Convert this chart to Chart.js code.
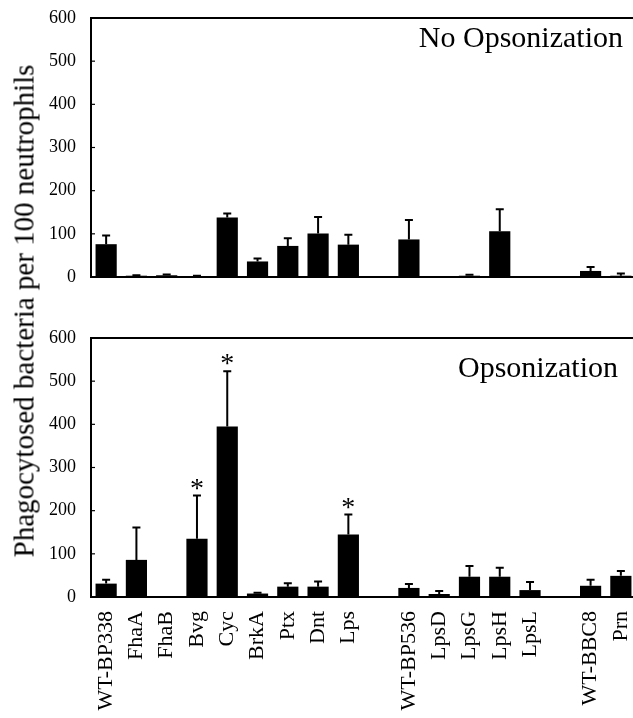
<!DOCTYPE html>
<html>
<head>
<meta charset="utf-8">
<script src="https://cdn.jsdelivr.net/npm/chart.js@4/dist/chart.umd.min.js"></script>
<style>
  html, body { margin: 0; padding: 0; background: #fff; overflow: hidden; width: 633px; height: 718px; }
  #wrap { position: relative; width: 633px; height: 718px; overflow: hidden; }
  canvas { position: absolute; left: 0; }
  #ytitle { position: absolute; left: 24px; top: 311px; transform: translate(-50%, -50%) rotate(-90deg);
    font-family: "Liberation Serif", "Times New Roman", serif; font-size: 29px; color: #000; white-space: nowrap; }
</style>
</head>
<body>
<div id="wrap">
  <canvas id="top" width="640" height="290" style="top:0px"></canvas>
  <canvas id="bot" width="640" height="428" style="top:290px"></canvas>
  <div id="ytitle">Phagocytosed bacteria per 100 neutrophils</div>
</div>
<script>
// ---- data ----
const categories = ['WT-BP338','FhaA','FhaB','Bvg','Cyc','BrkA','Ptx','Dnt','Lps','',
                    'WT-BP536','LpsD','LpsG','LpsH','LpsL','','WT-BBC8','Prn'];
const noOpsValues = [76, 3, 4, 2, 138, 36, 72, 101, 75, null, 87, 1, 3, 106, 1, null, 14, 3];
const noOpsErrors = [20, 1, 2, 1, 9, 7, 18, 38, 23, null, 45, 0, 2, 51, 0, null, 9, 5];
const opsValues   = [31, 86, 1, 135, 395, 8, 24, 24, 145, null, 21, 7, 47, 47, 16, null, 26, 49];
const opsErrors   = [9, 75, 0, 100, 128, 2, 8, 12, 46, null, 9, 7, 25, 21, 19, null, 14, 11];
const opsSignificant = [0,0,0,1,1,0,0,0,1,0,0,0,0,0,0,0,0,0];
const yTicks = [0, 100, 200, 300, 400, 500, 600];
const panelTitles = ['No Opsonization', 'Opsonization'];

const SERIF = '"Liberation Serif", "Times New Roman", serif';

const decorPlugin = {
  id: 'decor',
  afterDatasetsDraw(chart, args, opts) {
    const ctx = chart.ctx;
    const ys = chart.scales.y;
    const meta = chart.getDatasetMeta(0);
    const ca = chart.chartArea;
    ctx.save();
    // top border
    ctx.strokeStyle = '#000';
    ctx.lineWidth = 2;
    ctx.beginPath();
    ctx.moveTo(ca.left - 1, ys.getPixelForValue(600));
    ctx.lineTo(ca.right + 5, ys.getPixelForValue(600));
    ctx.stroke();
    // inward y ticks
    ctx.lineWidth = 1.2;
    yTicks.forEach(t => {
      const py = ys.getPixelForValue(t);
      ctx.beginPath();
      ctx.moveTo(ca.left, py);
      ctx.lineTo(ca.left + 4, py);
      ctx.stroke();
    });
    // error bars
    const vals = opts.values, errs = opts.errors;
    ctx.lineWidth = 2;
    vals.forEach((v, i) => {
      if (v === null || errs[i] === null || errs[i] <= 0) return;
      const x = meta.data[i].x;
      const y0 = ys.getPixelForValue(v);
      const y1 = ys.getPixelForValue(v + errs[i]);
      ctx.beginPath();
      ctx.moveTo(x, y0);
      ctx.lineTo(x, y1);
      ctx.moveTo(x - 4, y1);
      ctx.lineTo(x + 4, y1);
      ctx.stroke();
    });
    // significance asterisks
    if (opts.sig) {
      ctx.fillStyle = '#000';
      ctx.font = '28px ' + SERIF;
      ctx.textAlign = 'center';
      ctx.textBaseline = 'alphabetic';
      opts.sig.forEach((s, i) => {
        if (!s) return;
        const x = meta.data[i].x;
        const yc = ys.getPixelForValue(vals[i] + errs[i]);
        const m = ctx.measureText('*');
        const desc = m.actualBoundingBoxDescent || -10;
        ctx.fillText('*', x, yc - 6 - desc);
      });
    }
    // panel title
    ctx.fillStyle = '#000';
    ctx.font = '30px ' + SERIF;
    ctx.textAlign = 'right';
    ctx.textBaseline = 'alphabetic';
    ctx.fillText(opts.title, opts.titleRight, opts.titleBaseline);
    ctx.restore();
  }
};

function makeChart(id, values, errors, sig, title, titleRight, titleBaseline, padTop, xHeight, showLabels) {
  return new Chart(document.getElementById(id), {
    type: 'bar',
    data: {
      labels: categories,
      datasets: [{
        data: values,
        backgroundColor: '#000',
        borderWidth: 0,
        categoryPercentage: 1.0,
        barPercentage: 0.7
      }]
    },
    options: {
      responsive: false,
      animation: false,
      devicePixelRatio: 1,
      layout: { padding: { top: padTop, left: 0, right: 4, bottom: 0 } },
      plugins: {
        legend: { display: false },
        tooltip: { enabled: false },
        decor: { values: values, errors: errors, sig: sig, title: title,
                 titleRight: titleRight, titleBaseline: titleBaseline }
      },
      scales: {
        x: {
          grid: { display: false, drawTicks: false },
          border: { display: true, color: '#000', width: 2 },
          ticks: {
            display: showLabels,
            color: '#000',
            font: { family: SERIF, size: 22 },
            minRotation: 90, maxRotation: 90,
            autoSkip: false,
            padding: 14
          },
          afterFit(scale) {
            scale.height = xHeight;
            scale.paddingLeft = 0; scale.paddingRight = 0;
            scale.paddingTop = 0; scale.paddingBottom = 0;
          }
        },
        y: {
          min: 0, max: 600,
          grid: { display: false, drawTicks: false },
          border: { display: true, color: '#000', width: 2 },
          ticks: {
            stepSize: 100,
            color: '#000',
            font: { family: SERIF, size: 18 },
            padding: 15
          },
          afterBuildTicks(scale) { scale.ticks = yTicks.map(v => ({ value: v })); },
          afterFit(scale) {
            scale.width = 91;
            scale.paddingTop = 0; scale.paddingBottom = 0;
            scale.paddingLeft = 0; scale.paddingRight = 0;
          }
        }
      }
    },
    plugins: [decorPlugin]
  });
}

makeChart('top', noOpsValues, noOpsErrors, null, panelTitles[0], 623, 47, 18, 13, false);
makeChart('bot', opsValues, opsErrors, opsSignificant, panelTitles[1], 618, 87, 48, 121, true);
</script>
</body>
</html>
